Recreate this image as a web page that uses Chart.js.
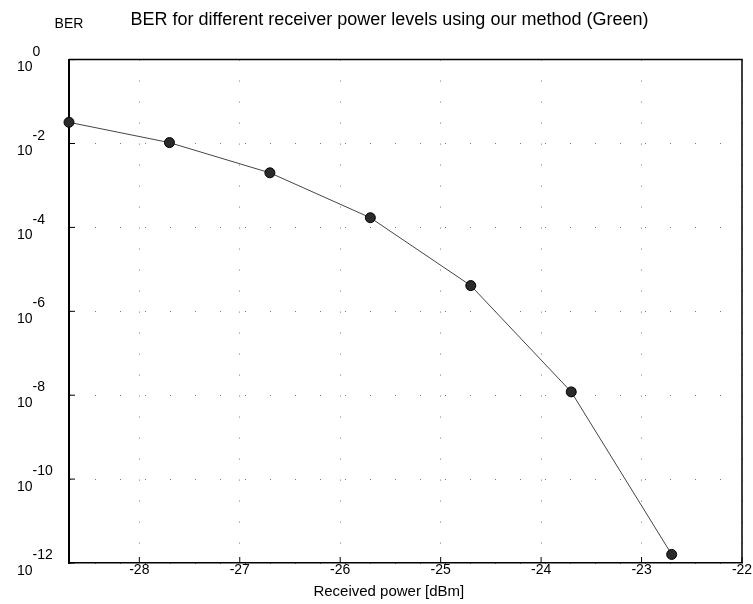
<!DOCTYPE html>
<html>
<head>
<meta charset="utf-8">
<title>BER</title>
<script src="https://cdn.jsdelivr.net/npm/chart.js@4.4.0/dist/chart.umd.min.js"></script>
<style>
    body { margin: 0; background: #fff; }
</style>
</head>
<body>
<canvas id="grafica" width="753" height="604"></canvas>
<script>
// datos
var potencia = [-28.7, -27.7, -26.7, -25.7, -24.7, -23.7, -22.7];
var ber = [3.2e-2, 1.05e-2, 2.0e-3, 1.7e-4, 4.1e-6, 1.2e-8, 1.6e-12];
var ticksX = [-28, -27, -26, -25, -24, -23, -22];
var exponentesY = [0, -2, -4, -6, -8, -10, -12];

var tituloGrafica = 'BER for different receiver power levels using our method (Green)';
var tituloX = 'Received power [dBm]';
var tituloY = 'BER';

var fuente = '"Liberation Sans", Arial, Helvetica, sans-serif';

// pares x,y para la linea
var puntos = [];
for (var i = 0; i < potencia.length; i++) {
    puntos.push({x: potencia[i], y: ber[i]});
}

// marco de arriba y derecha, marcas internas y la etiqueta BER
var marco = {
    id: 'marco',
    beforeDatasetsDraw: function(chart) {
        var ctx = chart.ctx;
        var a = chart.chartArea;
        var sx = chart.scales.x;
        var sy = chart.scales.y;
        ctx.save();
        ctx.strokeStyle = '#000';
        ctx.lineWidth = 1.5;
        ctx.beginPath();
        ctx.moveTo(a.left, a.top);
        ctx.lineTo(a.right, a.top);
        ctx.lineTo(a.right, a.bottom);
        ctx.stroke();
        ctx.lineWidth = 1;
        ctx.beginPath();
        for (var i = 0; i < ticksX.length; i++) {
            var px = sx.getPixelForValue(ticksX[i]);
            ctx.moveTo(px, a.bottom);
            ctx.lineTo(px, a.bottom - 6);
        }
        for (var j = 0; j < exponentesY.length; j++) {
            var py = sy.getPixelForValue(Math.pow(10, exponentesY[j]));
            ctx.moveTo(a.left, py);
            ctx.lineTo(a.left + 6, py);
        }
        ctx.stroke();
        ctx.fillStyle = '#000';
        ctx.font = '14px ' + fuente;
        ctx.textAlign = 'center';
        ctx.textBaseline = 'middle';
        ctx.fillText(tituloY, a.left, 24);
        ctx.restore();
    }
};

var ctx = document.getElementById('grafica').getContext('2d');

var miGrafico = new Chart(ctx, {
    type: 'line',
    data: {
        datasets: [{
            label: 'BER',
            data: puntos,
            borderColor: '#444',
            borderWidth: 1,
            pointRadius: 5,
            pointBackgroundColor: '#2a2a2a',
            pointBorderColor: '#000',
            pointBorderWidth: 1,
            tension: 0,
            fill: false,
            clip: false
        }]
    },
    options: {
        responsive: false,
        animation: false,
        devicePixelRatio: 1,
        layout: { padding: { left: 17, right: 11, top: 0, bottom: 3 } },
        plugins: {
            legend: { display: false },
            tooltip: { enabled: false },
            title: {
                display: true,
                text: '    ' + tituloGrafica,
                color: '#000',
                font: { family: fuente, size: 18, weight: 'normal' },
                padding: { top: 9, bottom: 29 }
            }
        },
        scales: {
            x: {
                type: 'linear',
                bounds: 'data',
                min: -28.7,
                max: -22,
                afterBuildTicks: function(s) {
                    s.ticks = ticksX.map(function(v) { return {value: v}; });
                },
                afterFit: function(s) { s.height = 38; },
                grid: { color: '#777', lineWidth: 1, drawTicks: false },
                border: { display: true, color: '#000', width: 1.5, dash: [1, 20] },
                ticks: {
                    color: '#000',
                    padding: 0,
                    autoSkip: false,
                    maxRotation: 0,
                    font: { family: fuente, size: 14, lineHeight: 1 }
                },
                title: {
                    display: true,
                    text: tituloX + '        ',
                    color: '#000',
                    font: { family: fuente, size: 15 },
                    padding: { top: 6, bottom: 0 }
                }
            },
            y: {
                type: 'logarithmic',
                min: 1e-12,
                max: 1,
                afterBuildTicks: function(s) {
                    s.ticks = exponentesY.map(function(e) { return {value: Math.pow(10, e)}; });
                },
                afterFit: function(s) { s.width = 52; },
                grid: { color: '#777', lineWidth: 1, drawTicks: false },
                border: { display: true, color: '#000', width: 2, dash: [1, 24] },
                ticks: {
                    color: '#000',
                    autoSkip: false,
                    crossAlign: 'far',
                    font: { family: fuente, size: 14, lineHeight: 1.1 },
                    callback: function(v) {
                        var e = Math.round(Math.log10(v));
                        return ['    ' + e, '10'];
                    }
                }
            }
        }
    },
    plugins: [marco]
});
</script>
</body>
</html>
